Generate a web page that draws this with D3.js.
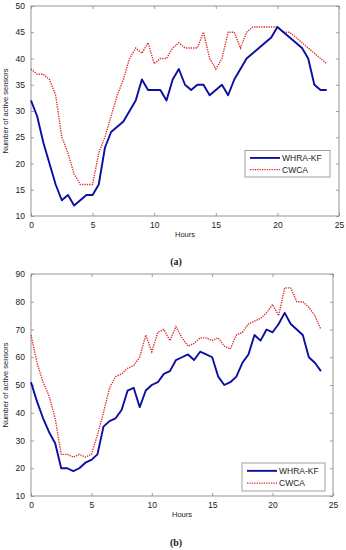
<!DOCTYPE html>
<html>
<head>
<meta charset="utf-8">
<script src="https://cdn.jsdelivr.net/npm/d3@7"></script>
<style>
  body { margin: 0; background: #fff; }
  svg { display: block; }
  .tick text { font-family: "Liberation Sans", Arial, sans-serif; font-size: 8.5px; fill: #222; }
</style>
</head>
<body>
<div class="chart-container"></div>
<script>
// hours, every half hour
var hours = d3.range(0, 24.5, 0.5);
var xTicks = [0, 5, 10, 15, 20, 25];

// panel (a)
var whraA = [32, 29, 24, 20, 16, 13, 14, 12, 13, 14, 14, 16, 23, 26, 27, 28, 30, 32, 36, 34,
  34, 34, 32, 36, 38, 35, 34, 35, 35, 33, 34, 35, 33, 36, 38, 40, 41, 42, 43, 44,
  46, 45, 44, 43, 42, 40, 35, 34, 34];
var cwcaA = [38, 37, 37, 36, 33, 25, 22, 18, 16, 16, 16, 22, 25, 29, 33, 36, 40, 42, 41, 43,
  39, 40, 40, 42, 43, 42, 42, 42, 45, 40, 38, 40, 45, 45, 42, 45, 46, 46, 46, 46,
  46, 45, 45, 44, 43, 42, 41, 40, 39];
var yTicksA = [10, 15, 20, 25, 30, 35, 40, 45, 50];

// panel (b)
var whraB = [51, 44, 38, 33, 29, 20, 20, 19, 20, 22, 23, 25, 35, 37, 38, 41, 48, 49, 42, 48,
  50, 51, 54, 55, 59, 60, 61, 59, 62, 61, 60, 53, 50, 51, 53, 58, 61, 68, 66, 70,
  69, 72, 76, 72, 70, 68, 60, 58, 55];
var cwcaB = [68, 58, 51, 46, 38, 25, 25, 24, 25, 24, 25, 32, 40, 49, 53, 54, 56, 57, 60, 68,
  62, 69, 70, 66, 71, 67, 64, 65, 67, 67, 66, 67, 64, 63, 68, 69, 72, 73, 74, 76,
  79, 75, 85, 85, 80, 80, 78, 75, 70];
var yTicksB = [10, 20, 30, 40, 50, 60, 70, 80, 90];

var seriesNames = ["WHRA-KF", "CWCA"];

var width = 346;
var height = 550;

var svg = d3
  .select(".chart-container")
  .append("svg")
  .attr("width", width)
  .attr("height", height);

drawPanel({
  left: 31, right: 339, top: 6, bottom: 216,
  yDomain: [10, 50], yTicks: yTicksA,
  blue: whraA, red: cwcaA,
  legend: { x: 245, y: 150.5, w: 85, h: 26.5 },
  hoursY: 237, caption: "(a)", captionY: 265
});

drawPanel({
  left: 31, right: 333, top: 274, bottom: 496,
  yDomain: [10, 90], yTicks: yTicksB,
  blue: whraB, red: cwcaB,
  legend: { x: 242, y: 463, w: 83, h: 28 },
  hoursY: 517, caption: "(b)", captionY: 546
});

function drawPanel(p) {
  var x = d3.scaleLinear().domain([0, 25]).range([p.left, p.right]);
  var y = d3.scaleLinear().domain(p.yDomain).range([p.bottom, p.top]);
  var g = svg.append("g");

  var tickLen = 3;
  // matlab style: ticks inside on all four sides
  var axes = [
    { axis: d3.axisBottom(x).tickValues(xTicks).tickSizeInner(-tickLen).tickSizeOuter(0).tickPadding(6), pos: `translate(0,${p.bottom})`, labels: true },
    { axis: d3.axisTop(x).tickValues(xTicks).tickSizeInner(-tickLen).tickSizeOuter(0), pos: `translate(0,${p.top})`, labels: false },
    { axis: d3.axisLeft(y).tickValues(p.yTicks).tickSizeInner(-tickLen).tickSizeOuter(0).tickPadding(6), pos: `translate(${p.left},0)`, labels: true },
    { axis: d3.axisRight(y).tickValues(p.yTicks).tickSizeInner(-tickLen).tickSizeOuter(0), pos: `translate(${p.right},0)`, labels: false }
  ];
  axes.forEach(function (a) {
    var ag = g.append("g").attr("transform", a.pos).call(a.axis);
    ag.select(".domain").remove();
    ag.selectAll("line").attr("stroke", "#888").attr("stroke-width", 0.8);
    if (!a.labels) ag.selectAll("text").remove();
  });

  // box
  g.append("rect")
    .attr("x", p.left)
    .attr("y", p.top)
    .attr("width", p.right - p.left)
    .attr("height", p.bottom - p.top)
    .attr("fill", "none")
    .attr("stroke", "#8a8a8a")
    .attr("stroke-width", 0.9);

  var line = d3.line()
    .x((d, i) => x(hours[i]))
    .y((d) => y(d));

  g.append("path")
    .datum(p.red)
    .attr("d", line)
    .attr("fill", "none")
    .attr("stroke", "#e0282b")
    .attr("stroke-width", 1.4)
    .attr("stroke-dasharray", "1.3,1.1");

  g.append("path")
    .datum(p.blue)
    .attr("d", line)
    .attr("fill", "none")
    .attr("stroke", "#0b0ea0")
    .attr("stroke-width", 1.9)
    .attr("stroke-linejoin", "round");

  // legend
  var lg = g.append("g").attr("transform", `translate(${p.legend.x},${p.legend.y})`);
  lg.append("rect")
    .attr("width", p.legend.w)
    .attr("height", p.legend.h)
    .attr("fill", "#fff")
    .attr("stroke", "#8a8a8a")
    .attr("stroke-width", 0.8);
  var rowY = [p.legend.h * 0.28, p.legend.h * 0.72];
  seriesNames.forEach(function (name, i) {
    lg.append("line")
      .attr("x1", 5).attr("x2", 35)
      .attr("y1", rowY[i]).attr("y2", rowY[i])
      .attr("stroke", i === 0 ? "#0b0ea0" : "#e0282b")
      .attr("stroke-width", i === 0 ? 1.9 : 1.4)
      .attr("stroke-dasharray", i === 0 ? null : "1.3,1.1");
    lg.append("text")
      .attr("x", 37)
      .attr("y", rowY[i])
      .attr("dy", "0.35em")
      .style("font-family", "Liberation Sans, Arial, sans-serif")
      .style("font-size", "8.5px")
      .style("fill", "#222")
      .text(name);
  });

  // axis titles
  g.append("text")
    .attr("x", (p.left + p.right) / 2)
    .attr("y", p.hoursY)
    .attr("text-anchor", "middle")
    .style("font-family", "Liberation Sans, Arial, sans-serif")
    .style("font-size", "7.5px")
    .style("fill", "#222")
    .text("Hours");

  g.append("text")
    .attr("transform", `translate(8,${(p.top + p.bottom) / 2}) rotate(-90)`)
    .attr("text-anchor", "middle")
    .style("font-family", "Liberation Sans, Arial, sans-serif")
    .style("font-size", "7.5px")
    .style("fill", "#222")
    .text("Number of active sensors");

  g.append("text")
    .attr("x", 176)
    .attr("y", p.captionY)
    .attr("text-anchor", "middle")
    .style("font-family", "Liberation Serif, Times New Roman, serif")
    .style("font-weight", "bold")
    .style("font-size", "10px")
    .style("fill", "#222")
    .text(p.caption);
}
</script>
</body>
</html>
